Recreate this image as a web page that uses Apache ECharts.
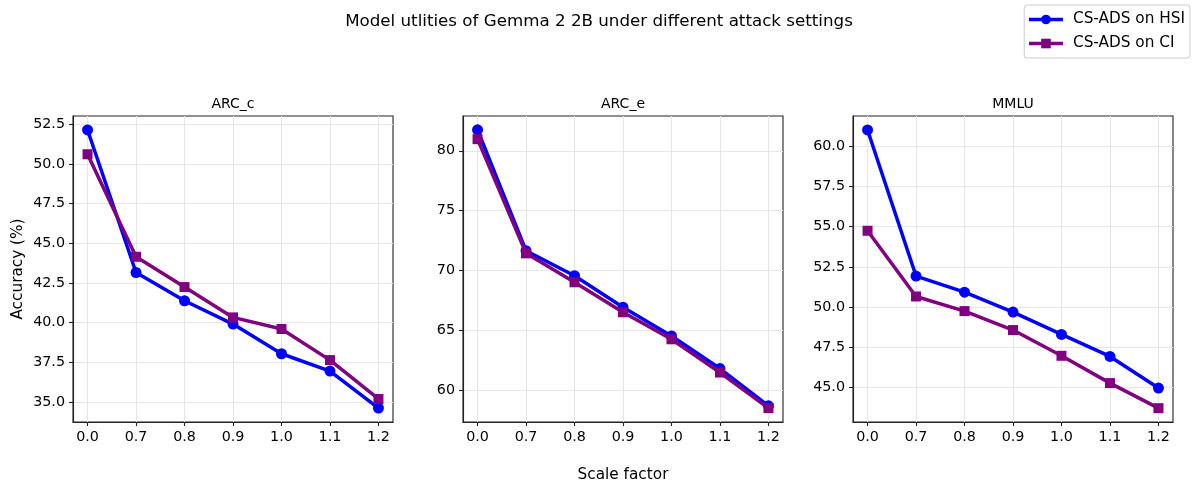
<!DOCTYPE html>
<html><head><meta charset="utf-8">
<script src="https://cdn.jsdelivr.net/npm/echarts@6/dist/echarts.min.js"></script>
<style>html,body{margin:0;padding:0;background:#fff}#c{width:1195px;height:485px}</style>
</head><body><div id="c"></div>
<script>
const scaleFactors = ['0.0', '0.7', '0.8', '0.9', '1.0', '1.1', '1.2'];
const panelTitles = ['ARC_c', 'ARC_e', 'MMLU'];
const seriesNames = ['CS-ADS on HSI', 'CS-ADS on CI'];

const hsiArcC = [52.14, 43.16, 41.38, 39.91, 38.04, 36.95, 34.62];
const ciArcC  = [50.61, 44.15, 42.24, 40.33, 39.60, 37.64, 35.19];
const hsiArcE = [81.75, 71.64, 69.55, 66.91, 64.51, 61.78, 58.66];
const ciArcE  = [80.97, 71.42, 69.00, 66.49, 64.23, 61.45, 58.47];
const hsiMmlu = [61.02, 51.93, 50.93, 49.69, 48.30, 46.93, 44.96];
const ciMmlu  = [54.75, 50.66, 49.75, 48.57, 46.97, 45.27, 43.71];

const yTicksArcC = [35, 37.5, 40, 42.5, 45, 47.5, 50, 52.5];
const yTicksArcE = [60, 65, 70, 75, 80];
const yTicksMmlu = [45, 47.5, 50, 52.5, 55, 57.5, 60];
const yLimits = [[33.74, 53.02], [57.31, 82.91], [42.85, 61.89]];
const yDecimals = [1, 0, 1];

const hsiData = [hsiArcC, hsiArcE, hsiMmlu];
const ciData = [ciArcC, ciArcE, ciMmlu];
const yTicks = [yTicksArcC, yTicksArcE, yTicksMmlu];

const chart = echarts.init(document.getElementById('c'), null, {renderer: 'canvas'});
const gridLefts = [73, 463, 853];
const GW = 320, GH = 306, GT = 116;
const FONT = 'DejaVu Sans';
const xIdx = scaleFactors.map((_, i) => i);

const option = {
  backgroundColor: '#fff',
  textStyle: {fontFamily: FONT},
  animation: false,
  title: [
    {text: 'Model utlities of Gemma 2 2B under different attack settings', left: 599, textAlign: 'center', top: 13, padding: 0,
     textStyle: {fontFamily: FONT, fontSize: 16.7, fontWeight: 'normal', color: '#000'}}
  ].concat(panelTitles.map((t, i) => ({
    text: t, left: gridLefts[i] + GW / 2, textAlign: 'center', top: 97, padding: 0,
    textStyle: {fontFamily: FONT, fontSize: 14, fontWeight: 'normal', color: '#000'}
  }))),
  legend: {
    orient: 'vertical', right: 5, top: 5,
    padding: [7, 5, 7, 3],
    itemWidth: 34, itemHeight: 12, itemGap: 9,
    borderColor: '#cccccc', borderWidth: 1, borderRadius: 3,
    backgroundColor: '#fff',
    lineStyle: {width: 3.5},
    textStyle: {fontFamily: FONT, fontSize: 15.3, color: '#000', padding: [0, 0, 0, 5]},
    data: seriesNames
  },
  grid: gridLefts.map(l => ({left: l, top: GT, width: GW, height: GH, show: true, containLabel: false, outerBoundsMode: 'none',
    borderColor: '#222', borderWidth: 1.1, backgroundColor: 'transparent'})),
  xAxis: gridLefts.map((_, i) => ({
    type: 'value', gridIndex: i, min: -0.3, max: 6.3,
    name: i === 1 ? 'Scale factor' : '', nameLocation: 'middle', nameGap: 46,
    nameTextStyle: {fontFamily: FONT, fontSize: 15.3, color: '#000'},
    axisLine: {show: true, onZero: false, lineStyle: {color: '#222', width: 1.1}},
    axisTick: {show: true, length: 4, inside: false, customValues: xIdx, lineStyle: {color: '#222', width: 1.1}},
    axisLabel: {customValues: xIdx, formatter: v => scaleFactors[Math.round(v)], margin: 8,
      fontFamily: FONT, fontSize: 14.3, color: '#000'},
    splitLine: {show: true, lineStyle: {color: '#e6e6e6', width: 1}}
  })),
  yAxis: gridLefts.map((_, i) => ({
    type: 'value', gridIndex: i, min: yLimits[i][0], max: yLimits[i][1],
    name: i === 0 ? 'Accuracy (%)' : '', nameLocation: 'middle', nameGap: 47,
    nameTextStyle: {fontFamily: FONT, fontSize: 15.3, color: '#000'},
    axisLine: {show: true, onZero: false, lineStyle: {color: '#222', width: 1.1}},
    axisTick: {show: true, length: 4, inside: false, customValues: yTicks[i], lineStyle: {color: '#222', width: 1.1}},
    axisLabel: {customValues: yTicks[i], formatter: v => v.toFixed(yDecimals[i]), margin: 8,
      fontFamily: FONT, fontSize: 14.3, color: '#000'},
    splitLine: {show: true, lineStyle: {color: '#e6e6e6', width: 1}}
  })),
  series: []
};

for (let i = 0; i < 3; i++) {
  option.series.push({
    name: seriesNames[0], type: 'line', xAxisIndex: i, yAxisIndex: i,
    data: hsiData[i].map((v, k) => [xIdx[k], v]),
    symbol: 'circle', symbolSize: 11, showSymbol: true,
    lineStyle: {color: '#0000ff', width: 3.5}, itemStyle: {color: '#0000ff'},
    z: 2
  });
}
for (let i = 0; i < 3; i++) {
  option.series.push({
    name: seriesNames[1], type: 'line', xAxisIndex: i, yAxisIndex: i,
    data: ciData[i].map((v, k) => [xIdx[k], v]),
    symbol: 'rect', symbolSize: 10, showSymbol: true,
    lineStyle: {color: '#800080', width: 3.5}, itemStyle: {color: '#800080'},
    z: 3
  });
}
chart.setOption(option);
</script>
</body></html>
